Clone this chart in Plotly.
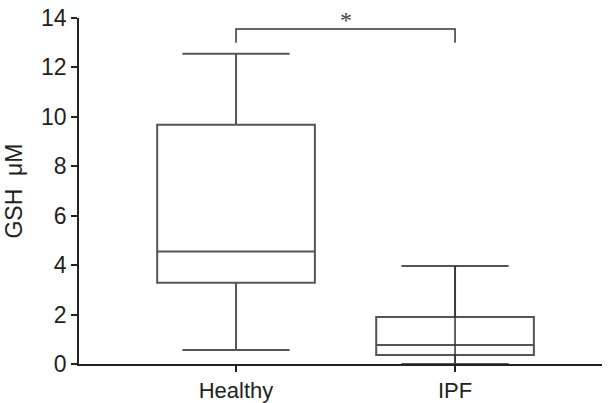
import plotly.graph_objects as go

# Group labels and summary statistics (GSH, µM)
groups = ["Healthy", "IPF"]
lower_whisker = [0.57, 0.0]
q1 = [3.29, 0.36]
median = [4.55, 0.77]
q3 = [9.68, 1.90]
upper_whisker = [12.55, 3.97]

# Significance bracket between the two groups
bracket_low = 13.0
bracket_high = 13.55
sig_label = "*"

y_ticks = [0, 2, 4, 6, 8, 10, 12, 14]

font_family = "Liberation Sans Narrow, Arial Narrow, Liberation Sans, Arial, sans-serif"
line_col = "#555555"
text_col = "#231f20"

xpos = list(range(len(groups)))

fig = go.Figure()

fig.add_trace(go.Box(
    x=xpos,
    q1=q1, median=median, q3=q3,
    lowerfence=lower_whisker, upperfence=upper_whisker,
    width=0.72,
    whiskerwidth=0.68,
    fillcolor="rgba(0,0,0,0)",
    line=dict(color=line_col, width=2),
    boxpoints=False,
    showlegend=False,
    hoverinfo="skip",
))

# Whisker of the second group runs straight through its box
fig.add_trace(go.Scatter(
    x=[xpos[1], xpos[1]],
    y=[lower_whisker[1], upper_whisker[1]],
    mode="lines",
    line=dict(color="#333333", width=1.5),
    showlegend=False,
    hoverinfo="skip",
    cliponaxis=False,
))

# Significance bracket
fig.add_trace(go.Scatter(
    x=[xpos[0], xpos[0], xpos[1], xpos[1]],
    y=[bracket_low, bracket_high, bracket_high, bracket_low],
    mode="lines",
    line=dict(color="#333333", width=1.5),
    showlegend=False,
    hoverinfo="skip",
    cliponaxis=False,
))

fig.add_annotation(
    x=(xpos[0] + xpos[1]) / 2, y=bracket_high,
    text=sig_label, showarrow=False,
    yanchor="bottom", yshift=-6,
    font=dict(family="Liberation Serif, DejaVu Serif, serif", size=24, color="#444444"),
)

fig.update_layout(
    width=610, height=403,
    margin=dict(l=79, r=8, t=18, b=39),
    paper_bgcolor="white",
    plot_bgcolor="white",
    font=dict(family=font_family, size=22, color=text_col),
    xaxis=dict(
        range=[-0.717, 1.671],
        tickmode="array", tickvals=xpos, ticktext=groups,
        showline=True, linecolor="#222222", linewidth=1.5,
        ticks="outside", ticklen=6, tickwidth=1.5, tickcolor="#222222",
        showgrid=False, zeroline=False, automargin=False,
        tickfont=dict(family=font_family, size=22, color=text_col),
    ),
    yaxis=dict(
        range=[0, 14],
        tickmode="array", tickvals=y_ticks,
        showline=True, linecolor="#222222", linewidth=1.5,
        ticks="outside", ticklen=6, tickwidth=1.5, tickcolor="#222222",
        showgrid=False, zeroline=False, automargin=False,
        tickfont=dict(family=font_family, size=23, color=text_col),
        title=dict(text="GSH  μM", standoff=12,
                   font=dict(family=font_family, size=23, color=text_col)),
    ),
)

fig.write_html("out.html")
